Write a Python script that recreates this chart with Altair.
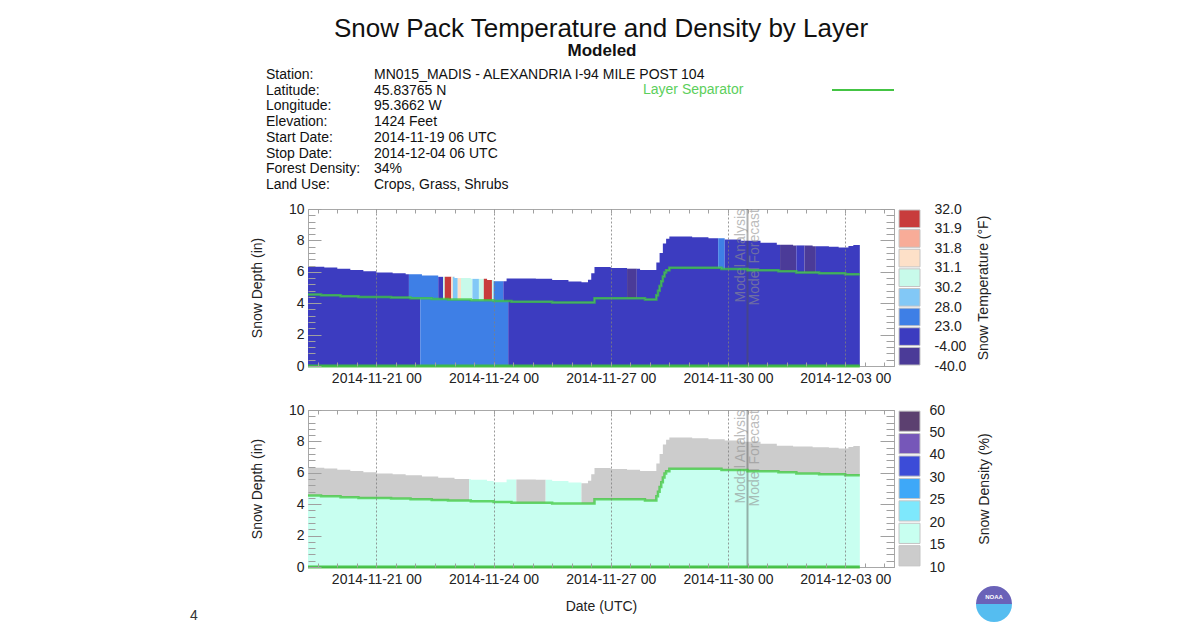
import json
import altair as alt
import pandas as pd

FONT = "Liberation Sans"
START = pd.Timestamp("2014-11-19 06:00", tz="UTC")
END_HOUR = 339          # last model hour drawn (hours after start)
MODEL_HOUR = 270        # analysis / forecast split (2014-11-30 12 UTC)

# ---- snow depth (total) and layer separator, step values, hours after start
DEPTH_HOURS = [0, 10, 18, 26, 34, 42, 52, 60, 70, 80, 90, 100, 110, 114, 122, 140, 150, 160, 168, 172,
               174, 176, 186, 196, 204, 214, 216, 218, 220, 222, 236, 246, 256, 266, 278, 288, 298, 310,
               320, 326, 332, 335]
DEPTH_IN = [6.32, 6.27, 6.2, 6.12, 6.04, 5.96, 5.9, 5.84, 5.76, 5.68, 5.6, 5.55, 5.48, 5.4, 5.58, 5.55,
            5.48, 5.38, 5.34, 5.5, 5.9, 6.3, 6.25, 6.2, 6.12, 6.6, 7.2, 7.8, 8.1, 8.25, 8.2, 8.14, 8.06,
            7.98, 7.85, 7.72, 7.68, 7.63, 7.6, 7.55, 7.65, 7.7]
SEP_HOURS = [0, 8, 20, 31, 51, 63, 76, 86, 100, 114, 125, 150, 176, 207, 214, 215, 216, 217, 218, 219,
             220, 222, 254, 270, 289, 300, 314, 330]
SEP_IN = [4.55, 4.5, 4.45, 4.4, 4.36, 4.32, 4.27, 4.23, 4.19, 4.14, 4.09, 4.04, 4.32, 4.24, 4.5, 4.8,
          5.1, 5.4, 5.7, 5.95, 6.1, 6.26, 6.18, 6.1, 6.04, 5.96, 5.9, 5.85]

# ---- temperature classes
TEMP_BINS = ["-40.0 to -4.00", "-4.00 to 23.0", "23.0 to 28.0", "28.0 to 30.2", "30.2 to 31.1",
             "31.1 to 31.8", "31.8 to 31.9", "31.9 to 32.0"]
TEMP_COLORS = ["#4b3b98", "#3c3cc0", "#3e7fe6", "#82c8f6", "#c8faea", "#fde0c8", "#f8ac98", "#c83c3c"]
TEMP_TICKS = ["-40.0", "-4.00", "23.0", "28.0", "30.2", "31.1", "31.8", "31.9", "32.0"]
TOP_UPPER_HOURS = [0, 62, 80, 83, 84, 88, 89, 92, 94, 101, 105, 108, 113, 114, 120, 196, 202, 252, 256,
                   290, 300, 305, 312]
TOP_UPPER_CAT = [1, 2, 1, 4, 7, 5, 3, 5, 4, 3, 4, 7, 4, 2, 1, 0, 1, 2, 1, 0, 1, 0, 1]
TOP_LOWER_HOURS = [0, 69, 123]
TOP_LOWER_CAT = [1, 2, 1]

# ---- density classes
DENS_BINS = ["10-15", "15-20", "20-25", "25-30", "30-40", "40-50", "50-60"]
DENS_COLORS = ["#cccccc", "#c8fff0", "#7ee8fc", "#3ea8f8", "#3c4cd8", "#7657b9", "#5c4070"]
DENS_TICKS = ["10", "15", "20", "25", "30", "40", "50", "60"]
BOT_UPPER_HOURS = [0, 99, 128, 146, 168]
BOT_UPPER_CAT = [0, 1, 0, 1, 0]
BOT_LOWER_HOURS = [0]
BOT_LOWER_CAT = [1]

INFO_LABELS = ["Station:", "Latitude:", "Longitude:", "Elevation:", "Start Date:", "Stop Date:",
               "Forest Density:", "Land Use:"]
INFO_VALUES = ["MN015_MADIS - ALEXANDRIA I-94 MILE POST 104", "45.83765 N", "95.3662 W", "1424 Feet",
               "2014-11-19 06 UTC", "2014-12-04 06 UTC", "34%", "Crops, Grass, Shrubs"]


def ts(h):
    return (START + pd.Timedelta(hours=h)).strftime("%Y-%m-%dT%H:%M:%SZ")


def dt(t):
    return alt.DateTime(year=t.year, month=t.month, date=t.day, hours=t.hour, utc=True)


def lookup(hours, vals, h):
    v = vals[0]
    for hh, vv in zip(hours, vals):
        if hh <= h:
            v = vv
        else:
            break
    return v


def build_areas(up_h, up_c, lo_h, lo_c, bins):
    """One step-area per run of constant class, for the lower and the upper layer."""
    rows = []
    breaks = sorted(set(DEPTH_HOURS + SEP_HOURS))
    for layer, ch, cc in (("lower", lo_h, lo_c), ("upper", up_h, up_c)):
        starts = [h for h in ch if h < END_HOUR]
        bounds = starts + [END_HOUR]
        for k in range(len(starts)):
            a, b = bounds[k], bounds[k + 1]
            pts = [a] + [x for x in breaks if a < x < b] + [b]
            for i, p in enumerate(pts):
                q = p if i < len(pts) - 1 else b - 1
                sep = lookup(SEP_HOURS, SEP_IN, q)
                dep = lookup(DEPTH_HOURS, DEPTH_IN, q)
                lo, hi = (0.0, sep) if layer == "lower" else (sep, dep)
                rows.append(dict(t=ts(p), y0=lo, y1=hi, cat=bins[cc[k]], seg=f"{layer}{k}"))
    return pd.DataFrame(rows)


top_areas = build_areas(TOP_UPPER_HOURS, TOP_UPPER_CAT, TOP_LOWER_HOURS, TOP_LOWER_CAT, TEMP_BINS)
bot_areas = build_areas(BOT_UPPER_HOURS, BOT_UPPER_CAT, BOT_LOWER_HOURS, BOT_LOWER_CAT, DENS_BINS)
sep_df = pd.DataFrame({"t": [ts(h) for h in SEP_HOURS] + [ts(END_HOUR)],
                       "v": SEP_IN + [SEP_IN[-1]]})
zero_df = pd.DataFrame({"t": [ts(0), ts(END_HOUR)], "v": [0, 0]})
model_df = pd.DataFrame({"t": [ts(MODEL_HOUR)], "lo": [0], "hi": [10]})
one = pd.DataFrame({"k": [0]})

# ---- scales and axes
XSCALE = alt.Scale(type="utc", domain=[dt(START), dt(START + pd.Timedelta(hours=360))], nice=False)
YSCALE = alt.Scale(domain=[0, 10], nice=False, zero=True)
MAJOR = [dt(pd.Timestamp(s, tz="UTC")) for s in
         ["2014-11-21", "2014-11-24", "2014-11-27", "2014-11-30", "2014-12-03"]]
MINOR = [dt(START + pd.Timedelta(hours=6 + 12 * i)) for i in range(30)]
Y_MAJOR = [0, 2, 4, 6, 8, 10]
Y_MINOR = [round(0.4 * i, 1) for i in range(26)]
TICK = "#a0a0a0"


def x_main(title=None, pad=0):
    kw = dict(values=MAJOR, format="%Y-%m-%d %H", labelFontSize=14, labelColor="#222", labelPadding=5,
              labelFont=FONT, labelFlush=False, labelAngle=0, ticks=False, domain=False, grid=True,
              gridDash=[2, 2], gridColor="#808080", gridOpacity=0.8, zindex=1, title=title)
    if title:
        kw.update(titleFontSize=14, titleFontWeight="normal", titleColor="#222", titlePadding=pad,
                  titleFont=FONT)
    return alt.Axis(**kw)


def inner_axis(values, orient, size):
    return alt.Axis(values=values, orient=orient, labels=False, domain=False, grid=False, ticks=True,
                    tickSize=size, offset=-size, tickColor=TICK, zindex=1, title=None)


Y_MAIN = alt.Axis(values=Y_MAJOR, labelFontSize=14, labelColor="#222", labelPadding=4, labelFont=FONT,
                  ticks=False, domain=False, grid=False, title="Snow Depth (in)", titleFontSize=14,
                  titleFontWeight="normal", titleColor="#222", titlePadding=24, titleFont=FONT)


def plot(areas, bins, colors, xtitle=None, xpad=0):
    cscale = alt.Scale(domain=bins, range=colors)
    fills = alt.Chart(areas).mark_area(interpolate="step-after").encode(
        x=alt.X("t:T", scale=XSCALE, axis=x_main(xtitle, xpad)),
        y=alt.Y("y0:Q", scale=YSCALE, axis=Y_MAIN),
        y2="y1:Q",
        color=alt.Color("cat:N", scale=cscale, legend=None),
        detail="seg:N",
    )
    rule = alt.Chart(model_df).mark_rule(color="#505050", opacity=0.45, strokeWidth=2).encode(
        x=alt.X("t:T", scale=XSCALE, axis=None),
        y=alt.Y("lo:Q", scale=YSCALE, axis=inner_axis(Y_MINOR, "right", 8)),
        y2="hi:Q",
    )
    txt_a = alt.Chart(model_df).mark_text(text="Model Analysis", angle=270, align="right",
                                          baseline="bottom", fontSize=14, font=FONT, color="#909090",
                                          opacity=0.6).encode(
        x=alt.X("t:T", scale=XSCALE, axis=None),
        y=alt.Y("hi:Q", scale=YSCALE, axis=inner_axis(Y_MAJOR, "right", 14)),
    )
    txt_f = alt.Chart(model_df).mark_text(text="Model Forecast", angle=270, align="right",
                                          baseline="top", fontSize=14, font=FONT, color="#909090",
                                          opacity=0.6).encode(
        x=alt.X("t:T", scale=XSCALE, axis=None),
        y=alt.Y("hi:Q", scale=YSCALE, axis=None),
    )
    sep = alt.Chart(sep_df).mark_line(interpolate="step-after", color="#3cc83c", strokeWidth=2.5,
                                      opacity=0.75).encode(
        x=alt.X("t:T", scale=XSCALE, axis=inner_axis(MINOR, "bottom", 4)),
        y=alt.Y("v:Q", scale=YSCALE, axis=inner_axis(Y_MINOR, "left", 7)),
    )
    zero = alt.Chart(zero_df).mark_line(color="#3cbf3c", strokeWidth=3, opacity=0.9).encode(
        x=alt.X("t:T", scale=XSCALE, axis=inner_axis(MINOR, "top", 4)),
        y=alt.Y("v:Q", scale=YSCALE, axis=inner_axis(Y_MAJOR, "left", 13)),
    )
    return [fills, rule, txt_a, txt_f, sep, zero]


def legend(bins, colors, ticks, title, label_pad, title_pad):
    n = len(bins)
    df = pd.DataFrame({"cat": bins, "lo": [i + 0.05 for i in range(n)], "hi": [i + 0.95 for i in range(n)]})
    expr = json.dumps(ticks) + "[datum.value]"
    return alt.Chart(df).mark_rect(stroke="#c4c4c4", strokeWidth=1).encode(
        x=alt.X(datum=0, type="quantitative", scale=alt.Scale(domain=[0, 1]), axis=None),
        x2=alt.X2(datum=1),
        y=alt.Y("lo:Q", scale=alt.Scale(domain=[0, n], nice=False, zero=False),
                axis=alt.Axis(orient="right", values=list(range(n + 1)), labelExpr=expr, ticks=False,
                              domain=False, grid=False, labelOverlap=False, labelFontSize=14,
                              labelColor="#222", labelPadding=label_pad, labelFont=FONT, title=title,
                              titleAngle=270, titleBaseline="top", titleFontSize=14,
                              titleFontWeight="normal", titleColor="#222", titlePadding=title_pad,
                              titleFont=FONT)),
        y2="hi:Q",
        color=alt.Color("cat:N", scale=alt.Scale(domain=bins, range=colors), legend=None),
    ).properties(width=21, height=157, view=alt.ViewBackground(stroke="transparent"))


def txt(text, x, y, size=14, **kw):
    props = dict(text=text, fontSize=size, font=FONT, align="left", baseline="middle", color="#111")
    props.update(kw)
    return alt.Chart(one).mark_text(**props).encode(x=alt.value(x), y=alt.value(y))


header = [
    txt("Snow Pack Temperature and Density by Layer", 293, -180, 26, align="center"),
    txt("Modeled", 294, -158, 17, align="center", fontWeight="bold"),
    txt(INFO_LABELS, -42, -141, baseline="top", lineHeight=15.7),
    txt(INFO_VALUES, 66, -141, baseline="top", lineHeight=15.7),
    txt("Layer Separator", 335, -119, color="#5ccf5c"),
    alt.Chart(one).mark_rule(color="#44c444", strokeWidth=2).encode(
        x=alt.value(524), x2=alt.value(586), y=alt.value(-119)),
]

footer = [
    txt("4", -118, 206, color="#333"),
    alt.Chart(one).mark_arc(radius=18, theta=4.712, theta2=7.854, color="#6a62b8").encode(
        x=alt.value(686), y=alt.value(194)),
    alt.Chart(one).mark_arc(radius=18, theta=1.571, theta2=4.712, color="#55bdf0").encode(
        x=alt.value(686), y=alt.value(194)),
    txt("NOAA", 686, 187, 6, align="center", color="white", fontWeight="bold"),
]

top = alt.layer(*plot(top_areas, TEMP_BINS, TEMP_COLORS), *header).resolve_axis(
    x="independent", y="independent").properties(width=586, height=157)
bot = alt.layer(*plot(bot_areas, DENS_BINS, DENS_COLORS, "Date (UTC)", 13), *footer).resolve_axis(
    x="independent", y="independent").properties(width=586, height=157)

leg_t = legend(TEMP_BINS, TEMP_COLORS, TEMP_TICKS, "Snow Temperature (°F)", 14, 11)
leg_b = legend(DENS_BINS, DENS_COLORS, DENS_TICKS, "Snow Density (%)", 9, 33)

chart = alt.concat(top, leg_t, bot, leg_b, columns=2, spacing={"row": 44, "column": 5},
                   bounds="flush").resolve_scale(color="independent").properties(
    padding={"left": 181, "top": 7, "right": 10, "bottom": 5}
).configure(font=FONT).configure_view(stroke="#a8a8a8")

chart.save("out.html", embed_options={"renderer": "svg", "actions": False})
